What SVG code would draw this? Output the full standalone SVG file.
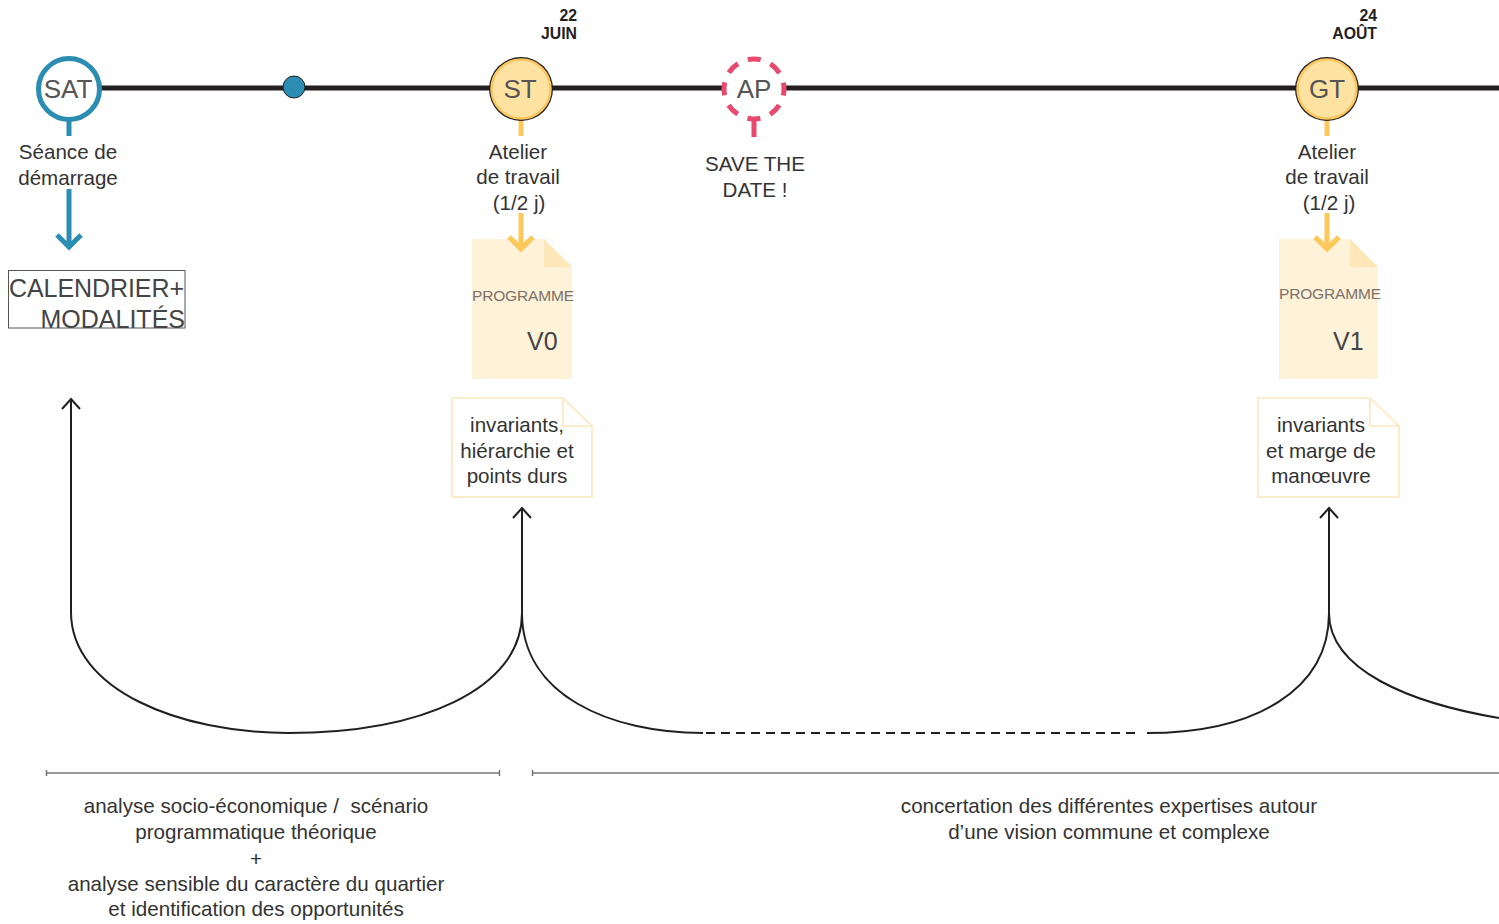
<svg xmlns="http://www.w3.org/2000/svg" width="1499" height="924" viewBox="0 0 1499 924">
<style>
.t{font-family:"Liberation Sans",Arial,sans-serif;fill:#333;font-size:20.6px;text-anchor:middle;white-space:pre}
.lbl{font-family:"Liberation Sans",Arial,sans-serif;fill:#555;font-size:26px;text-anchor:middle}
.date{font-family:"Liberation Sans",Arial,sans-serif;fill:#231f20;font-size:15.8px;font-weight:bold;text-anchor:end}
.prog{font-family:"Liberation Sans",Arial,sans-serif;fill:#7d7168;font-size:15.5px}
.ver{font-family:"Liberation Sans",Arial,sans-serif;fill:#444;font-size:25px}
.conn{fill:none;stroke:#231f20;stroke-width:2}
.doc{fill:#fef2d9}
.fold{fill:#fde6b8}
.note{fill:#fff;stroke:#fdeccb;stroke-width:2}
.ystem{stroke:#fcc85a;stroke-width:5;fill:none}
.bstem{stroke:#2a8db1;stroke-width:5;fill:none}
.brk{stroke:#777;stroke-width:1.5}
</style>
<g id="timeline">
<line x1="100" y1="88" x2="1499" y2="88" stroke="#231f20" stroke-width="5"/>
</g>
<g id="connectors">
<path class="conn" d="M71,612 V400 M62,409 L71,399 L80,409"/>
<path class="conn" d="M522,613 V508 M513,518 L522,508 L531,518"/>
<path class="conn" d="M1329,613 V508 M1320,518 L1329,508 L1338,518"/>
<path class="conn" d="M71,612 C71,690 180,733 288,733 C420,733 522,690 522,613"/>
<path class="conn" d="M522,613 C522,695 610,733 703,733"/>
<path class="conn" d="M706,733 H1138" stroke-dasharray="9,6"/>
<path class="conn" d="M1147,733 C1255,733 1329,690 1329,613"/>
<path class="conn" d="M1329,613 C1329,670 1410,703 1499,718"/>
</g>
<g id="doc-v0">
<polygon class="doc" points="472,239 544,239 572,267 572,379 472,379"/>
<polygon class="fold" points="544,239 572,267 544,267"/>
<text class="prog" x="472" y="301" textLength="102">PROGRAMME</text>
<text class="ver" x="527" y="350">V0</text>
</g>
<g id="doc-v1">
<polygon class="doc" points="1279,239 1350,239 1378,267 1378,379 1279,379"/>
<polygon class="fold" points="1350,239 1378,267 1350,267"/>
<text class="prog" x="1279" y="299" textLength="102">PROGRAMME</text>
<text class="ver" x="1333" y="350">V1</text>
</g>
<g id="sat">
<line class="bstem" x1="69" y1="118" x2="69" y2="136"/>
<circle cx="69" cy="89" r="30.5" fill="#fff" stroke="#2a8db1" stroke-width="5"/>
<text class="lbl" x="68" y="98">SAT</text>
<text class="t" x="68" y="159">Séance de</text>
<text class="t" x="68" y="185">démarrage</text>
<path class="bstem" d="M69,189 V246 M57,235 L69,247 L81,235"/>
</g>
<g id="calendrier">
<rect x="8.5" y="270.5" width="176.5" height="57.5" fill="none" stroke="#555" stroke-width="1"/>
<text x="9" y="297" font-family="Liberation Sans, Arial, sans-serif" font-size="25" fill="#444" textLength="175">CALENDRIER+</text>
<text x="185" y="328" font-family="Liberation Sans, Arial, sans-serif" font-size="25" fill="#444" text-anchor="end">MODALITÉS</text>
</g>
<g id="dot">
<circle cx="294" cy="87" r="11" fill="#2a8db1" stroke="#231f20" stroke-width="1"/>
</g>
<g id="st">
<text class="date" x="577" y="21">22</text>
<text class="date" x="577" y="39">JUIN</text>
<line class="ystem" x1="521" y1="118" x2="521" y2="136"/>
<circle cx="521" cy="89" r="32" fill="#231f20"/>
<circle cx="521" cy="89" r="29.5" fill="#fde2a2" stroke="#fbc65e" stroke-width="2.5"/>
<text class="lbl" x="520" y="98">ST</text>
<text class="t" x="518" y="159">Atelier</text>
<text class="t" x="518" y="184">de travail</text>
<text class="t" x="519" y="210">(1/2 j)</text>
<path class="ystem" d="M521,213 V248 M509,237 L521,249 L533,237"/>
</g>
<g id="note-v0">
<polygon class="note" points="452,398 563,398 592,426 592,497 452,497"/>
<polyline points="563,398 563,426 592,426" fill="none" stroke="#fdeccb" stroke-width="2"/>
<text class="t" x="517" y="432">invariants,</text>
<text class="t" x="517" y="458">hiérarchie et</text>
<text class="t" x="517" y="483">points durs</text>
</g>
<g id="ap">
<line x1="754" y1="120" x2="754" y2="137" stroke="#e9496f" stroke-width="5"/>
<circle cx="754" cy="89" r="30" fill="#fff" stroke="#e9496f" stroke-width="5" stroke-dasharray="13,10.562" stroke-dashoffset="6.5"/>
<text class="lbl" x="754" y="98">AP</text>
<text class="t" x="755" y="171">SAVE THE</text>
<text class="t" x="755" y="197">DATE !</text>
</g>
<g id="gt">
<text class="date" x="1377" y="21">24</text>
<text class="date" x="1377" y="39">AOÛT</text>
<line class="ystem" x1="1327" y1="118" x2="1327" y2="136"/>
<circle cx="1327" cy="89" r="32" fill="#231f20"/>
<circle cx="1327" cy="89" r="29.5" fill="#fde2a2" stroke="#fbc65e" stroke-width="2.5"/>
<text class="lbl" x="1327" y="98">GT</text>
<text class="t" x="1327" y="159">Atelier</text>
<text class="t" x="1327" y="184">de travail</text>
<text class="t" x="1329" y="210">(1/2 j)</text>
<path class="ystem" d="M1327,213 V248 M1315,237 L1327,249 L1339,237"/>
</g>
<g id="note-v1">
<polygon class="note" points="1258,398 1370,398 1399,426 1399,497 1258,497"/>
<polyline points="1370,398 1370,426 1399,426" fill="none" stroke="#fdeccb" stroke-width="2"/>
<text class="t" x="1321" y="432">invariants</text>
<text class="t" x="1321" y="458">et marge de</text>
<text class="t" x="1321" y="483">manœuvre</text>
</g>
<g id="phase1">
<line class="brk" x1="46" y1="773" x2="500" y2="773"/>
<line class="brk" x1="46.5" y1="770" x2="46.5" y2="776"/>
<line class="brk" x1="499.5" y1="770" x2="499.5" y2="776"/>
<text class="t" x="256" y="813">analyse socio-économique /  scénario</text>
<text class="t" x="256" y="839">programmatique théorique</text>
<text class="t" x="256" y="866">+</text>
<text class="t" x="256" y="891">analyse sensible du caractère du quartier</text>
<text class="t" x="256" y="916">et identification des opportunités</text>
</g>
<g id="phase2">
<line class="brk" x1="532" y1="773" x2="1499" y2="773"/>
<line class="brk" x1="532.5" y1="770" x2="532.5" y2="776"/>
<text class="t" x="1109" y="813">concertation des différentes expertises autour</text>
<text class="t" x="1109" y="839">d’une vision commune et complexe</text>
</g>
</svg>
